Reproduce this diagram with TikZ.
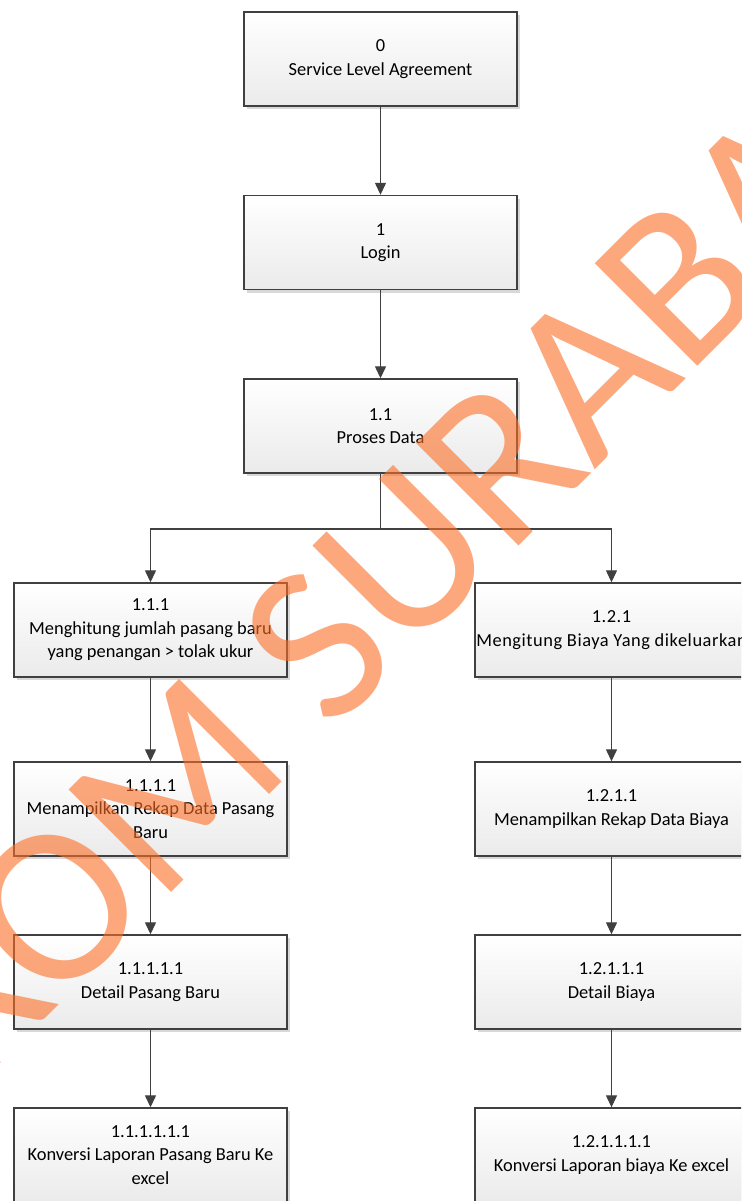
\documentclass[tikz,border=0pt]{standalone}
\usepackage{fontspec}
\setmainfont{Carlito}
\usetikzlibrary{arrows.meta,shadows}
\definecolor{edge}{HTML}{404040}
\definecolor{wm}{RGB}{252,110,38}
\begin{document}
\begin{tikzpicture}[x=1pt,y=-1pt,
  box/.style={draw=edge, line width=1.4pt, top color=white, bottom color=black!8,
    minimum width=273pt, minimum height=94pt, align=center, inner sep=0pt,
    font=\fontsize{18.4}{23.5}\selectfont,
    drop shadow={shadow xshift=3pt, shadow yshift=-3pt, fill=black!30, opacity=0.5}},
  link/.style={draw=edge, line width=1.3pt, -{Triangle[length=12pt,width=11pt]}},
  watermark/.style={rotate=45, text=wm, opacity=0.6, inner sep=0pt,
    font=\fontsize{226}{226}\selectfont}]
\useasboundingbox (0,0) rectangle (741,1201);
\clip (0,0) rectangle (741,1201);
\fill[white] (0,0) rectangle (741,1201);

\node[box] (b0) at (380.5,59) {0\\Service Level Agreement};
\node[box] (b1) at (380.5,242.5) {1\\Login};
\node[box] (b11) at (380.5,426) {1.1\\Proses Data};
\node[box] (b111) at (150.5,630) {1.1.1\\Menghitung jumlah pasang baru\\yang penangan > tolak ukur};
\node[box, font=\fontsize{18.4}{23.5}\selectfont\addfontfeature{LetterSpace=3}] (b121) at (611.5,630) {1.2.1\\Mengitung Biaya Yang dikeluarkan};
\node[box] (b1111) at (150.5,809) {1.1.1.1\\Menampilkan Rekap Data Pasang\\Baru};
\node[box] (b1211) at (611.5,809) {1.2.1.1\\Menampilkan Rekap Data Biaya};
\node[box] (b11111) at (150.5,982) {1.1.1.1.1\\Detail Pasang Baru};
\node[box] (b12111) at (611.5,982) {1.2.1.1.1\\Detail Biaya};
\node[box] (b111111) at (150.5,1155) {1.1.1.1.1.1\\Konversi Laporan Pasang Baru Ke\\excel};
\node[box] (b121111) at (611.5,1155) {1.2.1.1.1.1\\Konversi Laporan biaya Ke excel};

\coordinate (split) at (380.5,529);
\draw[link] (b0) -- (b1);
\draw[link] (b1) -- (b11);
\draw[link] (b11.south) -- (split) -| (b111.north);
\draw[link] (b11.south) -- (split) -| (b121.north);
\draw[link] (b111) -- (b1111);
\draw[link] (b1111) -- (b11111);
\draw[link] (b11111) -- (b111111);
\draw[link] (b121) -- (b1211);
\draw[link] (b1211) -- (b12111);
\draw[link] (b12111) -- (b121111);

\node[watermark] (wmk) at (348,614) {STIKOM SURABAYA};
\end{tikzpicture}
\end{document}
